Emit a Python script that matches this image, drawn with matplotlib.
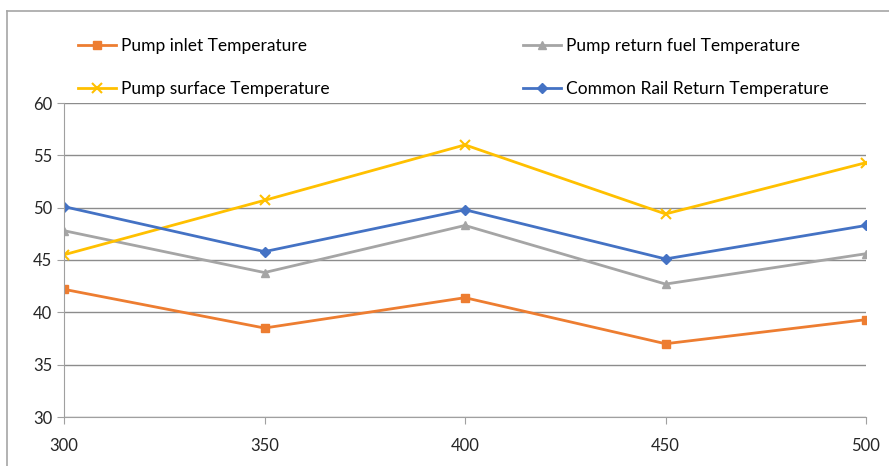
import matplotlib.pyplot as plt
from matplotlib.lines import Line2D

# data
x_vals = [300, 350, 400, 450, 500]
pump_inlet = [42.2, 38.5, 41.4, 37.0, 39.3]
pump_return = [47.8, 43.8, 48.3, 42.7, 45.6]
pump_surface = [45.5, 50.7, 56.0, 49.4, 54.3]
rail_return = [50.1, 45.8, 49.8, 45.1, 48.3]

plt.rcParams['font.family'] = ['Lato', 'DejaVu Sans']

fig = plt.figure(figsize=(8.89, 4.66), dpi=100)
ax = fig.add_axes([64/889, 1 - 417/466, (866 - 64)/889, (417 - 103)/466])

l1, = ax.plot(x_vals, pump_inlet, color='#ED7D31', lw=2, marker='s', ms=6, label='Pump inlet Temperature')
l2, = ax.plot(x_vals, pump_return, color='#A5A5A5', lw=2, marker='^', ms=6, label='Pump return fuel Temperature')
l3, = ax.plot(x_vals, pump_surface, color='#FFC000', lw=2, marker='x', ms=7, mew=1.5, label='Pump surface Temperature')
l4, = ax.plot(x_vals, rail_return, color='#4472C4', lw=2, marker='D', ms=5, label='Common Rail Return Temperature')

ax.set_xlim(300, 500)
ax.set_ylim(30, 60)
ax.set_xticks(x_vals)
ax.set_yticks(range(30, 61, 5))
ax.grid(axis='y', color='#8C8C8C', lw=1)
ax.set_axisbelow(True)
for s in ['top', 'right']:
    ax.spines[s].set_visible(False)
for s in ['left', 'bottom']:
    ax.spines[s].set_color('#A0A0A0')
ax.tick_params(colors='#A0A0A0', labelcolor='#262626', labelsize=12, length=5)
ax.tick_params(axis='x', pad=10)

# two legend columns placed like the original
leg_kw = dict(frameon=False, loc='center left', fontsize=12.5, handlelength=2.2,
              handletextpad=0.3, labelspacing=1.55, borderaxespad=0, borderpad=0)
fig.legend(handles=[l1, l3], bbox_to_anchor=(78/889, 1 - 67.5/466), **leg_kw)
fig.legend(handles=[l2, l4], bbox_to_anchor=(523/889, 1 - 67.5/466), **leg_kw)

# outer chart border (left and top visible in the crop)
fig.add_artist(Line2D([7/889, 7/889], [0, 1 - 11/466], color='#A6A6A6', lw=1.2))
fig.add_artist(Line2D([7/889, 1], [1 - 11/466, 1 - 11/466], color='#A6A6A6', lw=1.2))

fig.savefig('out.png', dpi=100)
